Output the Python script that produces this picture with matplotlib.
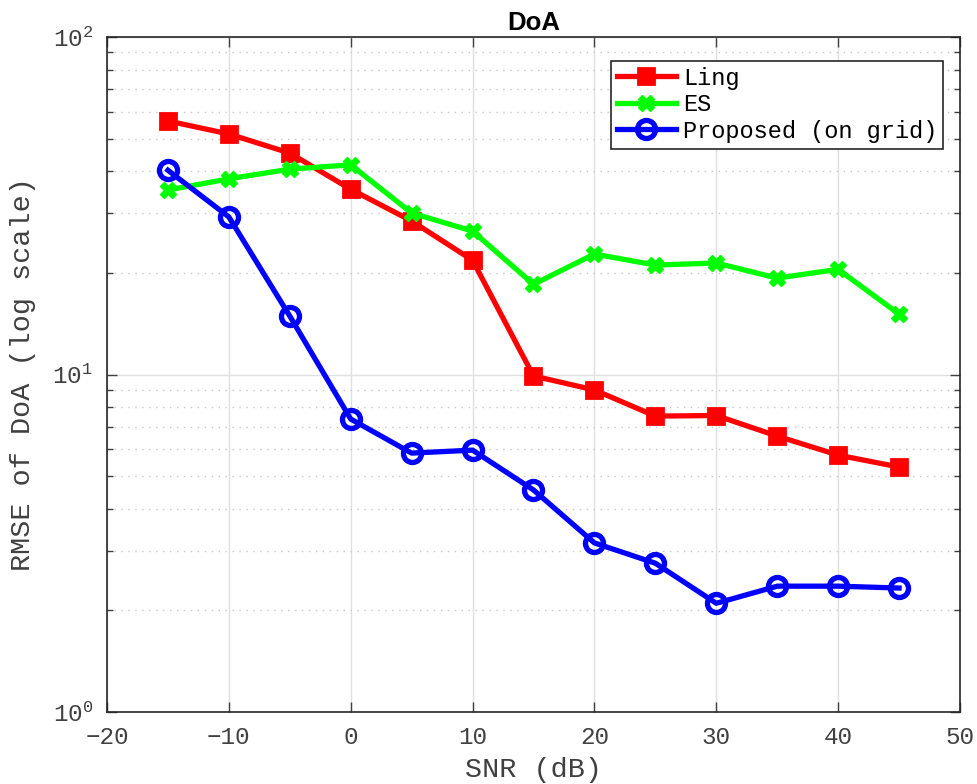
import numpy as np
import matplotlib
matplotlib.use("Agg")
import matplotlib.pyplot as plt
from matplotlib.ticker import LogLocator, NullFormatter

# ----------- DONNÉES -----------
snr = [-15, -10, -5, 0, 5, 10, 15, 20, 25, 30, 35, 40, 45]
rmse_ling = [56.4, 51.6, 45.3, 35.4, 28.5, 21.8, 9.9, 9.0, 7.53, 7.56, 6.57, 5.77, 5.32]
rmse_es = [35.2, 38.0, 40.6, 41.8, 30.1, 26.6, 18.5, 22.75, 21.1, 21.4, 19.3, 20.5, 15.1]
rmse_prop = [40.3, 29.3, 14.9, 7.38, 5.85, 5.97, 4.55, 3.17, 2.76, 2.10, 2.36, 2.36, 2.33]
labels = ["Ling", "ES", "Proposed (on grid)"]

plt.rcParams['font.family'] = ['Liberation Mono', 'DejaVu Sans Mono']
plt.rcParams['mathtext.fontset'] = 'custom'
plt.rcParams['mathtext.rm'] = 'Liberation Mono'

tick_col = '#404040'

fig = plt.figure(figsize=(9.77, 7.84), dpi=100)
ax = fig.add_axes([0.1095, 0.0918, 0.8731, 0.861])

ax.plot(snr, rmse_ling, color='red', lw=3.8, marker='s', ms=12,
        mfc='red', mec='red', mew=2, label=labels[0])
ax.plot(snr, rmse_es, color='#00ff00', lw=3.8, marker='X', ms=11,
        mfc='#00ff00', mec='#00ff00', mew=1, label=labels[1])
ax.plot(snr, rmse_prop, color='blue', lw=3.8, marker='o', ms=13,
        mfc='none', mec='blue', mew=3.8, label=labels[2])

ax.set_yscale('log')
ax.set_xlim(-20, 50)
ax.set_ylim(1, 100)
ax.set_xticks(np.arange(-20, 51, 10))
ax.yaxis.set_major_locator(LogLocator(base=10, numticks=5))
ax.yaxis.set_minor_locator(LogLocator(base=10, subs=np.arange(2, 10), numticks=20))
ax.yaxis.set_minor_formatter(NullFormatter())

# ----------- GRILLE -----------
ax.grid(True, which='major', axis='both', color='#e0e0e0', lw=1, ls='-')
ax.grid(True, which='minor', axis='y', color='#c8c8c8', lw=1, ls=(0, (1, 4)))
ax.set_axisbelow(True)

for s in ax.spines.values():
    s.set_color('#262626')
    s.set_linewidth(1.2)

ax.tick_params(which='both', direction='in', colors=tick_col, labelsize=17.5,
               top=True, right=True, width=1)
ax.tick_params(which='major', length=7)
ax.tick_params(which='minor', length=4)
ax.tick_params(axis='y', pad=10)
ax.tick_params(axis='x', pad=10)

ax.set_xlabel("SNR (dB)", fontsize=20.5, color=tick_col, labelpad=6)
ax.set_ylabel("RMSE of DoA (log scale)", fontsize=20.5, color=tick_col, labelpad=12)
ax.set_title("DoA", fontsize=18.5, fontweight='bold', family='Liberation Sans', pad=5)

leg = ax.legend(loc='upper right', bbox_to_anchor=(0.98, 0.965), fontsize=17,
                fancybox=False, edgecolor='#262626', framealpha=1,
                handlelength=2.5, borderpad=0.25, labelspacing=0.15,
                handletextpad=0.3, borderaxespad=0)
leg.get_frame().set_linewidth(1.2)

fig.savefig("out.png", dpi=100)
